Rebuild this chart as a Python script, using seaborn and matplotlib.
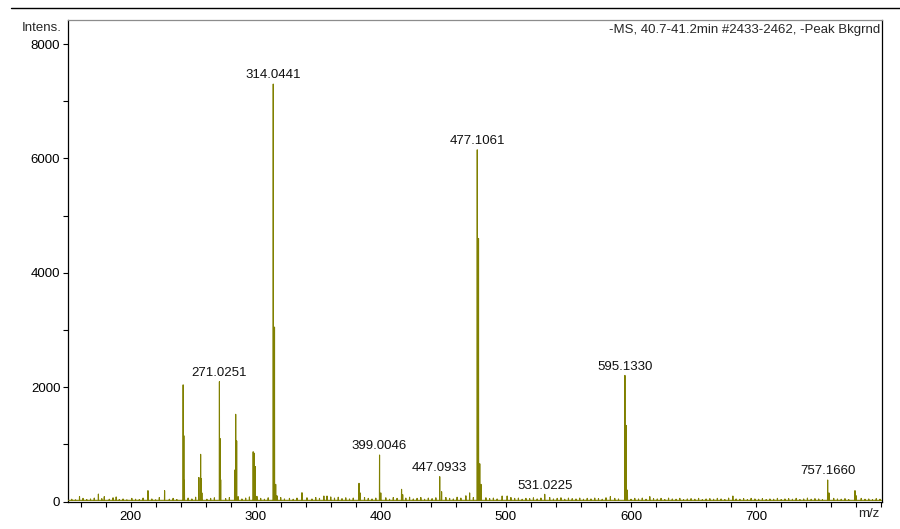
import matplotlib
matplotlib.use("Agg")
import matplotlib.pyplot as plt
import seaborn as sns
import pandas as pd
from matplotlib.lines import Line2D
from matplotlib.ticker import MultipleLocator, FuncFormatter

# peaks (m/z, intensity)
peak_mz = [159.2, 174.3, 179.0, 188.5, 213.9, 227.2,
           242.03, 242.6, 243.03, 254.6, 256.0, 256.6, 257.0,
           271.0251, 271.6, 272.03, 283.2, 284.03, 284.8, 286.0,
           298.0, 298.9, 299.7, 301.0, 314.0441, 315.05, 316.0, 317.0,
           337.0, 354.5, 357.0, 382.6, 383.5, 399.0046, 400.0,
           416.6, 417.5, 447.0933, 448.6, 468.0, 471.0,
           477.1061, 478.11, 479.1, 480.1, 497.0, 501.0,
           531.0225, 583.5, 595.1330, 596.13, 597.1, 615.0,
           681.4, 757.1660, 758.2, 779.0, 780.0]
peak_int = [85, 130, 85, 80, 190, 190,
            2040, 1150, 370, 420, 825, 400, 150,
            2095, 1100, 380, 550, 1525, 1060, 85,
            870, 845, 610, 90, 7300, 3050, 300, 100,
            154, 96, 96, 318, 150, 813, 150,
            213, 120, 434, 171, 100, 150,
            6150, 4600, 660, 300, 96, 96,
            126, 85, 2205, 1330, 200, 85,
            96, 376, 150, 190, 100]

# small baseline spikes
noise_mz = [153, 156, 162, 165, 168, 171, 177, 183, 186, 191, 194, 197, 201, 204,
            207, 210, 217, 220, 223, 231, 234, 237, 246, 249, 252, 261, 264, 267,
            276, 279, 289, 292, 295, 304, 307, 310, 320, 323, 327, 330, 333, 341,
            345, 348, 351, 360, 363, 366, 369, 372, 375, 378, 387, 390, 393, 396,
            404, 407, 410, 413, 420, 423, 426, 429, 432, 435, 438, 441, 444, 452,
            455, 458, 461, 464, 474, 484, 487, 490, 493, 504, 507, 510, 513, 516,
            519, 522, 525, 528, 535, 538, 541, 544, 547, 550, 553, 556, 559, 562,
            565, 568, 571, 574, 577, 580, 587, 590, 600, 603, 606, 609, 612, 618,
            621, 624, 627, 630, 633, 636, 639, 642, 645, 648, 651, 654, 657, 660,
            663, 666, 669, 672, 675, 678, 684, 687, 690, 693, 696, 699, 702, 705,
            708, 711, 714, 717, 720, 723, 726, 729, 732, 735, 738, 741, 744, 747,
            750, 753, 762, 765, 768, 771, 774, 784, 787, 790, 793, 796, 799]
noise_int = [40, 30, 55, 35, 45, 60, 50, 40, 65, 35, 45, 30, 55, 40,
             35, 60, 45, 30, 70, 40, 55, 35, 60, 45, 75, 40, 55, 65,
             50, 70, 45, 60, 80, 55, 40, 65, 70, 45, 55, 40, 60, 65,
             45, 70, 55, 80, 60, 75, 50, 65, 45, 60, 70, 55, 45, 60,
             65, 40, 70, 55, 60, 75, 45, 55, 70, 40, 60, 50, 65, 70,
             55, 45, 75, 60, 70, 65, 50, 60, 45, 70, 55, 60, 40, 55,
             50, 65, 45, 60, 70, 45, 55, 65, 40, 60, 50, 45, 60, 40,
             55, 45, 60, 50, 40, 65, 55, 45, 40, 55, 45, 60, 40, 50,
             45, 55, 35, 60, 45, 40, 55, 35, 45, 50, 40, 55, 35, 45,
             50, 40, 55, 45, 35, 60, 45, 40, 50, 35, 55, 45, 40, 50,
             35, 45, 40, 55, 35, 45, 50, 40, 55, 35, 45, 60, 40, 50,
             45, 35, 55, 45, 40, 50, 35, 55, 40, 45, 35, 50, 40]

label_mz = [271.0251, 314.0441, 399.0046, 447.0933, 477.1061, 531.0225, 595.1330, 757.1660]
label_txt = ["271.0251", "314.0441", "399.0046", "447.0933", "477.1061", "531.0225", "595.1330", "757.1660"]

sns.set_theme(style="ticks")
plt.rcParams['font.family'] = ['Liberation Sans', 'DejaVu Sans']

# build a stick profile through the baseline
sticks = sorted(zip(peak_mz + noise_mz, peak_int + noise_int))
xs, ys = [150.0], [20.0]
for m, i in sticks:
    xs += [m - 0.12, m, m + 0.12]
    ys += [20.0, i, 20.0]
xs.append(801.0)
ys.append(20.0)
spec = pd.DataFrame({"mz": xs, "intens": ys})

fig = plt.figure(figsize=(9, 5.29), dpi=100)
ax = fig.add_axes([68 / 900, 1 - 501.5 / 529, 814 / 900, 481.5 / 529])
sns.lineplot(data=spec, x="mz", y="intens", sort=False, estimator=None,
             color="#808000", linewidth=0.8, ax=ax, zorder=3)

ax.set_xlim(150, 800.6)
ax.set_ylim(0, 8420)
ax.xaxis.set_major_locator(MultipleLocator(100))
ax.xaxis.set_minor_locator(MultipleLocator(20))
# the right end carries "m/z" instead of 800
ax.xaxis.set_major_formatter(FuncFormatter(lambda v, p: "" if v >= 800 else f"{v:.0f}"))
ax.yaxis.set_major_locator(MultipleLocator(2000))
ax.yaxis.set_minor_locator(MultipleLocator(1000))
ax.tick_params(which="both", direction="out", length=3.5, width=0.8,
               colors="black", labelsize=9.5, pad=2)
ax.tick_params(axis="x", which="major", pad=3)
ax.set_xlabel("")
ax.set_ylabel("")
for s in ["left", "bottom", "right"]:
    ax.spines[s].set_color("black")
    ax.spines[s].set_linewidth(0.9)
ax.spines["top"].set_color("#8c8c8c")
ax.spines["top"].set_linewidth(0.9)
ax.spines["top"].set_visible(True)
ax.spines["right"].set_visible(True)

lookup = dict(zip(peak_mz, peak_int))
for m, t in zip(label_mz, label_txt):
    ax.annotate(t, (m, lookup[m]), xytext=(0, 2), textcoords="offset points",
                ha="center", va="bottom", fontsize=9.5, color="#111111")

fig.text(62 / 900, 1 - 28 / 529, "Intens.", ha="right", va="center", fontsize=9.5)
fig.text(880 / 900, 1 - 30 / 529, "-MS, 40.7-41.2min #2433-2462, -Peak Bkgrnd",
         ha="right", va="center", fontsize=9.5)
fig.text(879 / 900, 1 - 514 / 529, "m/z", ha="right", va="center", fontsize=9.5)
fig.add_artist(Line2D([11 / 900, 1.0], [1 - 8 / 529, 1 - 8 / 529], color="black", linewidth=1))

plt.savefig("out.png", dpi=100)
